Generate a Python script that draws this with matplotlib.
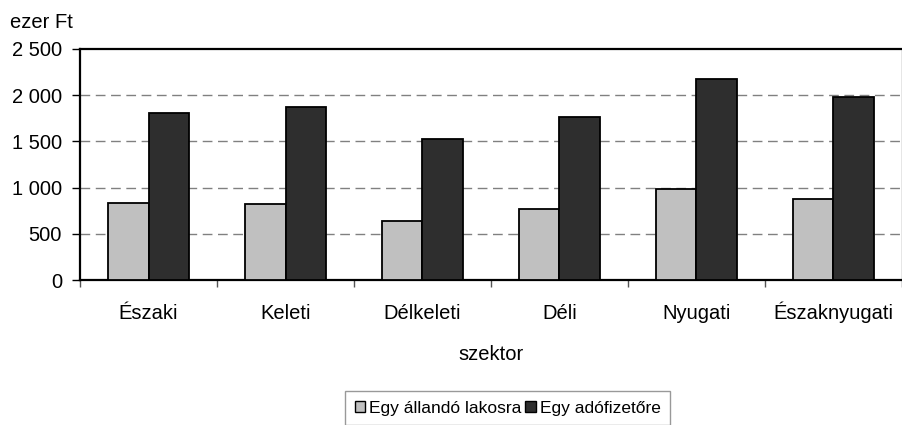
import matplotlib
matplotlib.use("Agg")
import matplotlib.pyplot as plt
import numpy as np
from matplotlib.ticker import FixedLocator

plt.rcParams['font.family'] = ['Liberation Sans', 'DejaVu Sans']

categories = ["Északi", "Keleti", "Délkeleti", "Déli", "Nyugati", "Északnyugati"]
per_resident = [837, 819, 638, 768, 985, 877]
per_taxpayer = [1811, 1876, 1530, 1768, 2179, 1984]
series_names = ["Egy állandó lakosra", "Egy adófizetőre"]
yticks = [0, 500, 1000, 1500, 2000, 2500]
ytick_labels = ["0", "500", "1 000", "1 500", "2 000", "2 500"]

FS = 14.5
W, H = 903, 425
fig = plt.figure(figsize=(W / 100, H / 100), dpi=100)
ax = fig.add_axes([80 / W, 1 - 280 / H, 822 / W, 231 / H])

x = np.arange(len(categories))
bw = 0.292
ax.bar(x - bw / 2, per_resident, width=bw, color="#C0C0C0", edgecolor="black",
       linewidth=1.3, label=series_names[0], zorder=3)
ax.bar(x + bw / 2, per_taxpayer, width=bw, color="#2E2E2E", edgecolor="black",
       linewidth=1.3, label=series_names[1], zorder=3)

ax.set_xlim(-0.5, len(categories) - 0.5)
ax.set_ylim(0, 2500)
ax.set_yticks(yticks)
ax.set_yticklabels(ytick_labels, fontsize=FS)
for yv in yticks[1:-1]:
    ax.axhline(yv, color="#808080", linewidth=1.0, linestyle=(0, (7, 4)), zorder=1)

ax.set_xticks(x)
ax.set_xticklabels(categories, fontsize=FS, va="baseline")
ax.tick_params(axis='x', which='major', length=0, pad=28)
ax.xaxis.set_minor_locator(FixedLocator(np.arange(-0.5, len(categories), 1.0)))
ax.tick_params(axis='x', which='minor', length=5, width=1, color="#555555")
ax.tick_params(axis='y', length=6, width=1, color="black", pad=7)

for s in ["top", "bottom", "left"]:
    ax.spines[s].set_linewidth(1.6)
    ax.spines[s].set_color("black")
ax.spines["right"].set_linewidth(1.0)
ax.spines["right"].set_color("#808080")

ax.set_xlabel("szektor", fontsize=FS, labelpad=16)
fig.text(10 / W, 1 - 22 / H, "ezer Ft", fontsize=FS, va="center", ha="left")

leg = fig.legend(loc="upper left", bbox_to_anchor=(345 / W, 1 - 391 / H), ncol=2,
                 fontsize=12.5, frameon=True, fancybox=False, edgecolor="#808080",
                 handlelength=0.62, handleheight=0.62, handletextpad=0.2,
                 columnspacing=0.25, borderpad=0.55, borderaxespad=0)
leg.get_frame().set_linewidth(1.0)
for p in leg.get_patches():
    p.set_linewidth(1.0)

fig.savefig("out.png", dpi=100)
